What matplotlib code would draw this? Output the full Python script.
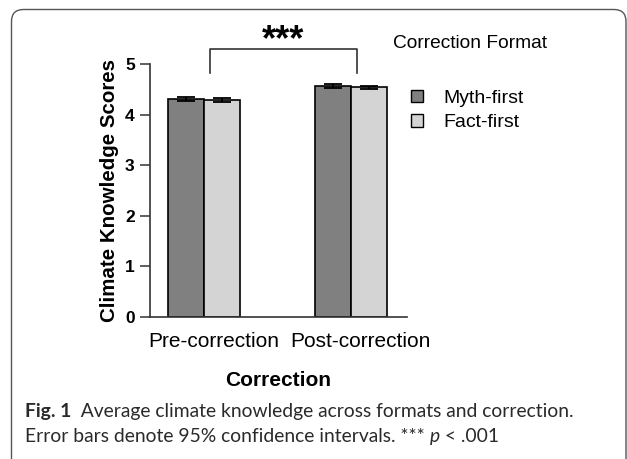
import matplotlib
matplotlib.use("Agg")
import matplotlib.pyplot as plt
import numpy as np
from matplotlib.patches import FancyBboxPatch, Patch
from matplotlib.transforms import ScaledTranslation, IdentityTransform

plt.rcParams['font.family'] = ['Liberation Sans', 'DejaVu Sans']

# Data
groups = ["Pre-correction", "Post-correction"]
formats = ["Myth-first", "Fact-first"]
myth_means = [4.30, 4.56]
fact_means = [4.29, 4.54]
myth_ci = [0.04, 0.035]
fact_ci = [0.04, 0.035]
yticks = [0, 1, 2, 3, 4, 5]

myth_color = "#808080"
fact_color = "#d4d4d4"

W, H = 627, 459
fig = plt.figure(figsize=(W / 100, H / 100), dpi=100)
ax = fig.add_axes([150 / W, 1 - 317 / H, 257 / W, 253 / H])

x = np.arange(len(groups))
bw = 0.245
for means, ci, col, off, name in [(myth_means, myth_ci, myth_color, -bw / 2, formats[0]),
                                   (fact_means, fact_ci, fact_color, bw / 2, formats[1])]:
    ax.bar(x + off, means, width=bw, color=col, edgecolor="black", linewidth=1.2,
           label=name, zorder=2)
    ax.errorbar(x + off, means, yerr=ci, fmt="none", ecolor="black",
                elinewidth=1.3, capsize=6.5, capthick=1.3, zorder=3)

ax.set_xlim(-0.367, 1.381)
ax.set_ylim(0, 5)
ax.set_yticks(yticks)
ax.set_yticklabels([str(t) for t in yticks], fontweight="bold", fontsize=12.5)
ax.set_xticks(x)
ax.set_xticklabels(groups, fontsize=15)
ax.tick_params(axis="x", length=0, pad=11)
ax.tick_params(axis="y", length=7, width=1.1, pad=4, color="#333333")
for lab in ax.get_xticklabels():
    lab.set_transform(lab.get_transform() + ScaledTranslation(0.095, 0, fig.dpi_scale_trans))
for s in ["top", "right"]:
    ax.spines[s].set_visible(False)
for s in ["left", "bottom"]:
    ax.spines[s].set_linewidth(1.2)
    ax.spines[s].set_color("#333333")

ax.set_ylabel("Climate Knowledge Scores", fontsize=14.8, fontweight="bold", labelpad=4)
ax.set_xlabel("Correction", fontsize=15, fontweight="bold", labelpad=14)

# Significance bracket between the two correction stages
bx0, bx1 = 0.041, 1.041
ax.plot([bx0, bx0, bx1, bx1], [4.82, 5.30, 5.30, 4.82], color="#333333", lw=1.2,
        clip_on=False)
ax.text((bx0 + bx1) / 2, 5.27, "***", ha="center", va="baseline", fontsize=26,
        fontweight="bold", clip_on=False)

# Legend
fig.text(393 / W, 1 - 43 / H, "Correction Format", fontsize=13.8, ha="left", va="center")
handles = [Patch(facecolor=myth_color, edgecolor="black", linewidth=1.0, label=formats[0]),
           Patch(facecolor=fact_color, edgecolor="black", linewidth=1.0, label=formats[1])]
fig.legend(handles=handles, loc="upper left", bbox_to_anchor=(411 / W, 1 - 90 / H),
           frameon=False, fontsize=14, handlelength=0.6, handleheight=0.6,
           handletextpad=1.05, labelspacing=0.38, borderpad=0, borderaxespad=0)

# Rounded panel frame
frame = FancyBboxPatch((11.5, -30), 614.5, H - 9.5 + 30,
                       boxstyle="round,pad=0,rounding_size=12",
                       transform=IdentityTransform(), facecolor="none",
                       edgecolor="#555555", linewidth=1.0)
fig.patches.append(frame)

# Caption, set as runs of differently styled text
cap_font = ["Lato", "DejaVu Sans"]
cap_size = 13.9
fig.canvas.draw()
renderer = fig.canvas.get_renderer()


def runs(items, x0, ybase):
    xp = x0
    for txt, kw in items:
        t = fig.text(xp / W, 1 - ybase / H, txt, fontsize=cap_size, family=cap_font,
                     va="baseline", ha="left", color="#2a2a2a", **kw)
        bb = t.get_window_extent(renderer=renderer)
        xp += bb.width


runs([("Fig. 1", {"fontweight": "bold"}),
      ("  Average climate knowledge across formats and correction.", {})], 25, 417)
runs([("Error bars denote 95% confidence intervals. *** ", {}),
      ("p", {"fontstyle": "italic"}),
      (" < .001", {})], 25, 442)

fig.savefig("out.png", dpi=100)
